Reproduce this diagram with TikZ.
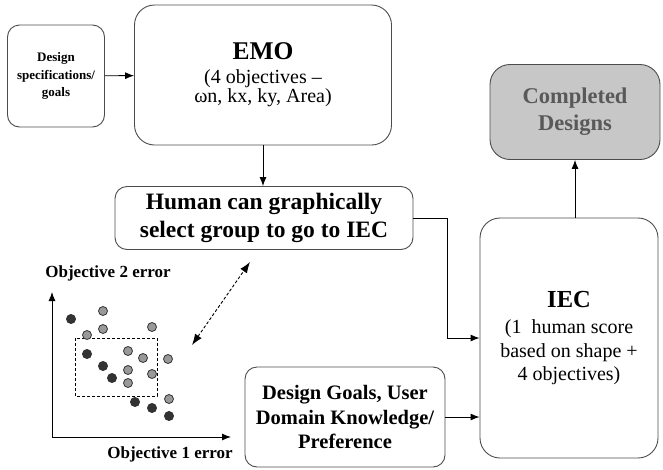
\documentclass[tikz,border=0pt]{standalone}
\usepackage{fontspec}
\setmainfont{Liberation Serif}
\usetikzlibrary{arrows.meta,positioning,calc}
\definecolor{edge}{gray}{0.3}
\definecolor{shade}{gray}{0.78}
\definecolor{darkdot}{gray}{0.2}
\definecolor{lightdot}{gray}{0.6}

\begin{document}
\begin{tikzpicture}[x=1pt,y=-1pt,>={Latex[length=9pt,width=7pt]},
  box/.style={draw=edge,line width=0.9pt,rounded corners=20pt,align=center,inner sep=3pt},
  smallbox/.style={box,rounded corners=12pt},
  every path/.style={line width=0.9pt}]
\useasboundingbox (0,0) rectangle (663,469);
%
\node (spec) [smallbox,minimum width=97pt,minimum height=102pt,
  font=\fontsize{13}{17.5}\selectfont\bfseries] at (56,76)
  {Design\\specifications/\\goals};
\node (emo) [box,minimum width=257pt,minimum height=140pt,
  font=\fontsize{20}{19.5}\selectfont] at (263,75)
  {{\fontsize{25.5}{28}\selectfont\bfseries EMO}\\[4pt]
   (4 objectives --\\ ωn, kx, ky, Area)};
\node (done) [box,fill=shade,minimum width=170pt,minimum height=95pt,
  font=\fontsize{22.5}{27}\selectfont\bfseries,text=black!65] at (575,112)
  {Completed\\Designs};
\node (human) [smallbox,minimum width=298pt,minimum height=63pt,
  font=\fontsize{23.5}{28}\selectfont\bfseries] at (264,218)
  {Human can graphically\\select group to go to IEC};
\node (iec) [box,minimum width=178pt,minimum height=240pt,
  font=\fontsize{20}{23.5}\selectfont] at (569,338)
  {{\fontsize{24.5}{28}\selectfont\bfseries IEC}\\[3pt]
   (1\ \ human score\\ based on shape +\\ 4 objectives)};
\node (goals) [smallbox,minimum width=200pt,minimum height=100pt,
  font=\fontsize{20.5}{24.5}\selectfont\bfseries] at (345,417)
  {Design Goals, User\\Domain Knowledge/\\Preference};
%
\draw[->] (spec) -- (emo);
\draw[->] (emo) -- (emo |- human.north);
\coordinate (k) at (447,218);
\draw[->] (human.east) -- (k) |- (iec.west);
\draw[->] (goals.east) -- (goals.east -| iec.west);
\draw[->] (done.south |- iec.north) -- (done.south);
%
% scatter of candidate designs
\coordinate (o) at (52,437);
\coordinate (ytop) at (52,292);
\coordinate (xend) at (231,437);
\draw[<->] (ytop) -- (o) -- (xend);
\node (ylab) [font=\fontsize{17}{19}\selectfont\bfseries] at (108,273) {Objective 2 error};
\node (xlab) [font=\fontsize{17}{19}\selectfont\bfseries] at (170,454) {Objective 1 error};
\draw[dashed,line width=1pt,dash pattern=on 3pt off 2pt] (75,338) rectangle (157,396);
\foreach \x/\y in {71/319,87/354,103/366,112/378,135/402,152/408,169/416}
  \filldraw[fill=darkdot,draw=darkdot] (\x,\y) circle (4.5pt);
\foreach \x/\y in {103/311,103/329,87/335,152/327,128/351,143/358,168/359,128/370,152/374,128/383,169/399}
  \filldraw[fill=lightdot,draw=darkdot,line width=0.8pt] (\x,\y) circle (4.5pt);
%
\coordinate (sel) at (192,345);
\coordinate (hum) at (250,262);
\draw[{Latex[length=11pt,width=8pt]}-{Latex[length=11pt,width=8pt]},dashed,dash pattern=on 3pt off 2pt] (sel) -- (hum);
\end{tikzpicture}
\end{document}
